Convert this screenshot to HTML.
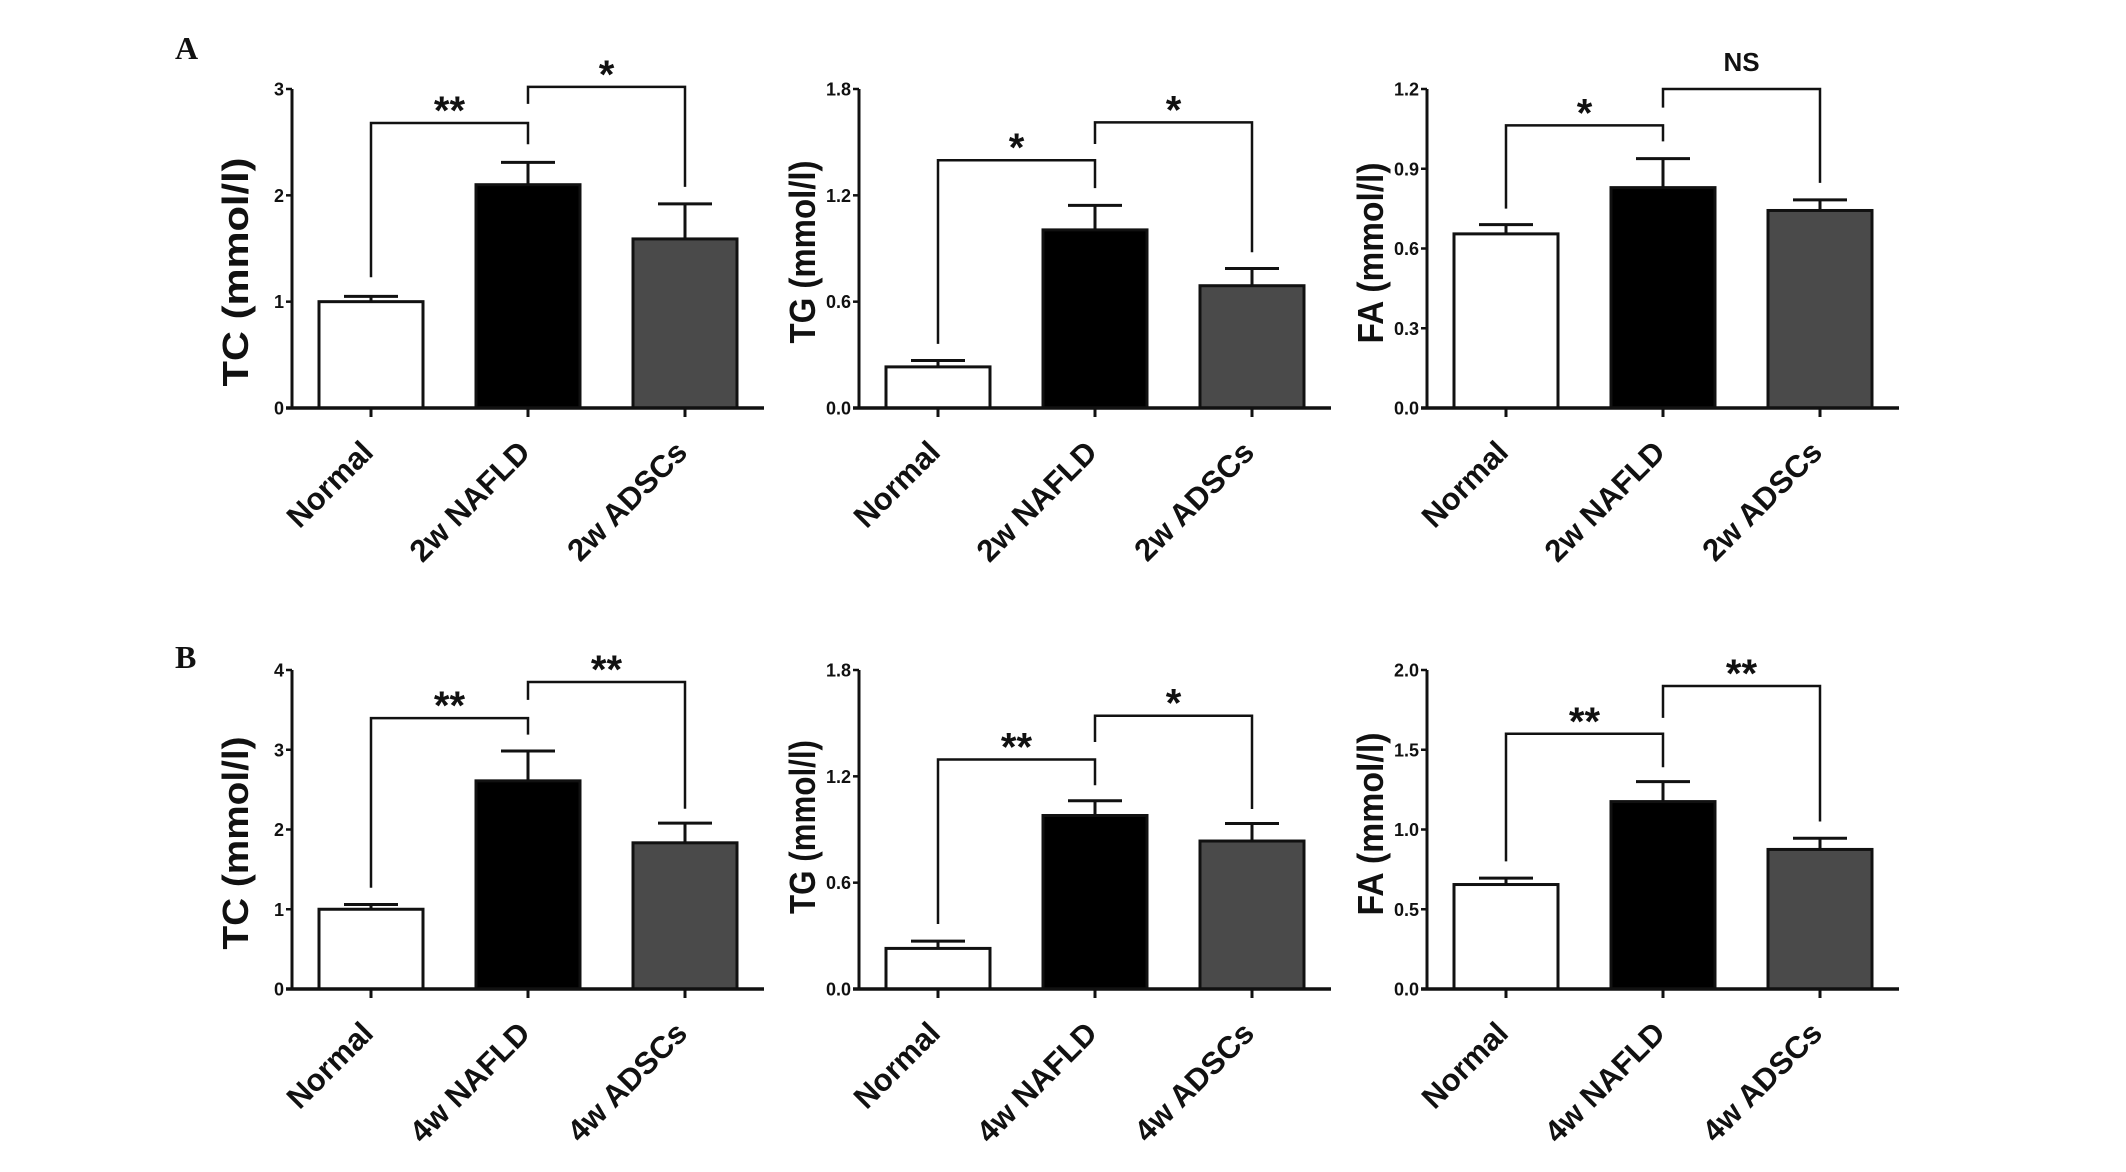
<!DOCTYPE html>
<html><head><meta charset="utf-8"><style>
html,body{margin:0;padding:0;background:#fff;}
svg{display:block;}
text{font-family:"Liberation Sans",Arial,sans-serif;font-weight:bold;fill:#111;}
</style></head><body>
<svg id="fig" width="2126" height="1172" viewBox="0 0 2126 1172" xmlns="http://www.w3.org/2000/svg">
<text x="175" y="59" style="font-family:'Liberation Serif',serif;font-size:32px;">A</text>
<text x="175" y="668" style="font-family:'Liberation Serif',serif;font-size:32px;">B</text>
</svg>
<script>
const categoriesA = ["Normal", "2w NAFLD", "2w ADSCs"];
const categoriesB = ["Normal", "4w NAFLD", "4w ADSCs"];
const tcA = [1.0, 2.1, 1.59];   const tcAErr = [1.05, 2.31, 1.92];
const tgA = [0.232, 1.005, 0.69]; const tgAErr = [0.268, 1.143, 0.787];
const faA = [0.655, 0.829, 0.743]; const faAErr = [0.69, 0.938, 0.783];
const tcB = [1.0, 2.61, 1.833];  const tcBErr = [1.06, 2.985, 2.08];
const tgB = [0.229, 0.979, 0.835]; const tgBErr = [0.27, 1.062, 0.934];
const faB = [0.655, 1.175, 0.875]; const faBErr = [0.695, 1.3, 0.945];
const ticksTC3 = [0, 1, 2, 3]; const ticksTC3Labels = ["0","1","2","3"];
const ticksTG = [0, 0.6, 1.2, 1.8]; const ticksTGLabels = ["0.0","0.6","1.2","1.8"];
const ticksFA12 = [0, 0.3, 0.6, 0.9, 1.2]; const ticksFA12Labels = ["0.0","0.3","0.6","0.9","1.2"];
const ticksTC4 = [0, 1, 2, 3, 4]; const ticksTC4Labels = ["0","1","2","3","4"];
const ticksFA2 = [0, 0.5, 1.0, 1.5, 2.0]; const ticksFA2Labels = ["0.0","0.5","1.0","1.5","2.0"];
const sigA1 = [[2.68,1.23,2.48],[3.02,2.86,2.08]]; const sigA1Labels = ["**","*"];
const sigA2 = [[1.398,0.362,1.241],[1.612,1.49,0.879]]; const sigA2Labels = ["*","*"];
const sigA3 = [[1.063,0.75,1.003],[1.2,1.13,0.847]]; const sigA3Labels = ["*","NS"];
const sigB1 = [[3.397,1.27,3.19],[3.85,3.625,2.26]]; const sigB1Labels = ["**","**"];
const sigB2 = [[1.295,0.367,1.15],[1.542,1.394,1.016]]; const sigB2Labels = ["**","*"];
const sigB3 = [[1.6,0.8,1.39],[1.9,1.7,1.05]]; const sigB3Labels = ["**","**"];

const NS = "http://www.w3.org/2000/svg";
const svg = document.getElementById('fig');
const fills = ["#ffffff", "#000000", "#4a4a4a"];
function mk(tag, attrs, parent) {
  const e = document.createElementNS(NS, tag);
  for (const k in attrs) e.setAttribute(k, attrs[k]);
  (parent || svg).appendChild(e);
  return e;
}
function chart(id, ax, top, zero, max, cats, vals, errs, ticks, tickLabels, title, titleLen, titleCy, sig, sigLabels) {
  const g = mk('g', {});
  
  
  const y = v => zero - (v / max) * (zero - top);
  const offs = [79, 236, 393];
  const xc = i => ax + offs[i];
  vals.forEach((v, i) => {
    const eb = mk('line', {x1: xc(i), x2: xc(i), y1: y(v), y2: y(errs[i]), stroke: '#111', 'stroke-width': 3}, g);
    
    
    const cap = mk('line', {x1: xc(i)-27, x2: xc(i)+27, y1: y(errs[i]), y2: y(errs[i]), stroke: '#111', 'stroke-width': 3}, g);
    
    
    const r = mk('rect', {x: xc(i)-52, y: y(v), width: 104, height: zero - y(v), fill: fills[i], stroke: '#111', 'stroke-width': 3}, g);
    
    
  });
  const yaxis = mk('line', {x1: ax, x2: ax, y1: top, y2: zero + 1.5, stroke: '#111', 'stroke-width': 3}, g);
  
  
  const xaxis = mk('line', {x1: ax - 6, x2: ax + 472, y1: zero, y2: zero, stroke: '#111', 'stroke-width': 3.5}, g);
  
  
  ticks.forEach((t, i) => {
    mk('line', {x1: ax - 6, x2: ax, y1: y(t), y2: y(t), stroke: '#111', 'stroke-width': 2.5}, g);
    const tl = mk('text', {x: ax - 8, y: y(t) + 6.5, 'text-anchor': 'end', 'font-size': 18}, g);
    tl.textContent = tickLabels[i];
    
    
  });
  cats.forEach((c, i) => {
    mk('line', {x1: xc(i), x2: xc(i), y1: zero, y2: zero + 9, stroke: '#111', 'stroke-width': 3}, g);
    const ex = xc(i) + 4, ey = zero + 46;
    const t = mk('text', {x: ex, y: ey, 'text-anchor': 'end', 'font-size': 31, transform: `rotate(-45 ${ex} ${ey})`}, g);
    t.textContent = c;
    
    
  });
  const tx = ax - 57;
  const tt = mk('text', {x: tx, y: titleCy, 'text-anchor': 'middle', 'font-size': 36, textLength: titleLen, lengthAdjust: 'spacingAndGlyphs', transform: `rotate(-90 ${tx} ${titleCy})`, dy: 13}, g);
  tt.textContent = title;
  
  
  sig.forEach((s, k) => {
    const xl = xc(k), xr = xc(k+1), yt = y(s[0]);
    const p = mk('path', {d: `M${xl},${y(s[1])} L${xl},${yt} L${xr},${yt} L${xr},${y(s[2])}`, fill: 'none', stroke: '#111', 'stroke-width': 2.5}, g);
    
    
    const lab = sigLabels[k];
    const isNS = lab === 'NS';
    const st = mk('text', {x: (xl + xr) / 2, y: isNS ? yt - 18 : yt + 1, 'text-anchor': 'middle', 'font-size': isNS ? 26 : 40}, g);
    st.textContent = lab;
    
    
  });
}
chart('chart-tc-2w', 292, 89, 408, 3, categoriesA, tcA, tcAErr, ticksTC3, ticksTC3Labels, 'TC (mmol/l)', 229, 272, sigA1, sigA1Labels);
chart('chart-tg-2w', 859, 89, 408, 1.8, categoriesA, tgA, tgAErr, ticksTG, ticksTGLabels, 'TG (mmol/l)', 183, 252, sigA2, sigA2Labels);
chart('chart-fa-2w', 1427, 89, 408, 1.2, categoriesA, faA, faAErr, ticksFA12, ticksFA12Labels, 'FA (mmol/l)', 181, 253, sigA3, sigA3Labels);
chart('chart-tc-4w', 292, 670, 989, 4, categoriesB, tcB, tcBErr, ticksTC4, ticksTC4Labels, 'TC (mmol/l)', 213, 843, sigB1, sigB1Labels);
chart('chart-tg-4w', 859, 670, 989, 1.8, categoriesB, tgB, tgBErr, ticksTG, ticksTGLabels, 'TG (mmol/l)', 174, 827, sigB2, sigB2Labels);
chart('chart-fa-4w', 1427, 670, 989, 2.0, categoriesB, faB, faBErr, ticksFA2, ticksFA2Labels, 'FA (mmol/l)', 183, 824, sigB3, sigB3Labels);
</script>
</body></html>
